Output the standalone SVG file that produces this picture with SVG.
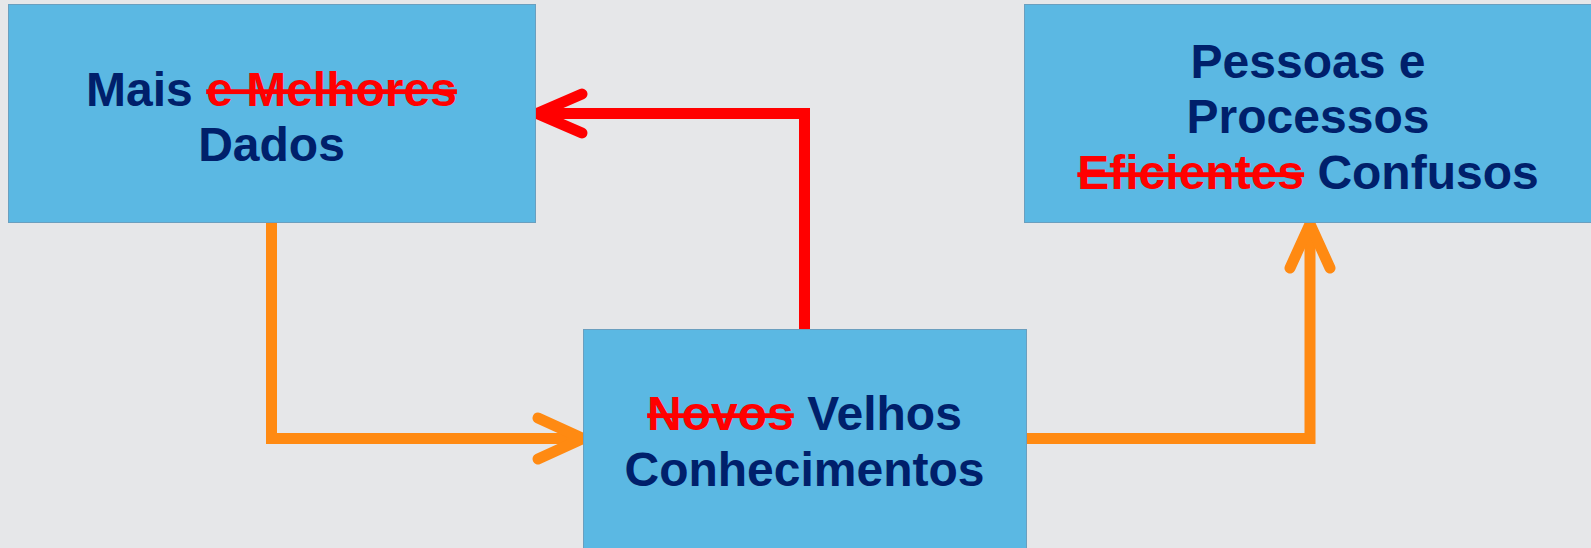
<svg xmlns="http://www.w3.org/2000/svg" width="1591" height="548" viewBox="0 0 1591 548">
<style>
.box{fill:#5BB8E3;stroke:#6A9FBF;stroke-width:1}
.t{font-family:"Liberation Sans",Arial,sans-serif;font-weight:bold;font-size:48px;fill:#00206B;text-anchor:middle}
.s{fill:#FF0000;text-decoration:line-through}
.line{fill:none;stroke-width:11;stroke-linejoin:miter;stroke-linecap:butt}
.head{fill:none;stroke-width:11;stroke-linejoin:miter;stroke-linecap:round}
.o{stroke:#FF8A12}
.r{stroke:#FF0000}
</style>
<rect x="0" y="0" width="1591" height="548" fill="#E6E7E9"/>
<g id="connectors">
<path class="line o" d="M271.5,223 V438.5 H578"/>
<path class="head o" d="M538,418 L583,438.5 L538,459"/>
<path class="line r" d="M804.5,329 V113.5 H542"/>
<path class="head r" d="M582,94 L537,113.5 L582,133"/>
<path class="line o" d="M1026,438.5 H1310 V228"/>
<path class="head o" d="M1290,268 L1310,224 L1330,268"/>
</g>
<g id="node-dados">
<rect class="box" x="8.5" y="4.5" width="527" height="218"/>
<text class="t" x="271.5" y="106">Mais <tspan class="s">e Melhores</tspan></text>
<text class="t" x="271.5" y="161">Dados</text>
</g>
<g id="node-conhecimentos">
<rect class="box" x="583.5" y="329.5" width="443" height="230"/>
<text class="t" x="804.5" y="430"><tspan class="s">Novos</tspan> Velhos</text>
<text class="t" x="804.5" y="486">Conhecimentos</text>
</g>
<g id="node-pessoas">
<rect class="box" x="1024.5" y="4.5" width="580" height="218"/>
<text class="t" x="1308" y="78">Pessoas e</text>
<text class="t" x="1308" y="133">Processos</text>
<text class="t" x="1308" y="189"><tspan class="s">Eficientes</tspan> Confusos</text>
</g>
</svg>
